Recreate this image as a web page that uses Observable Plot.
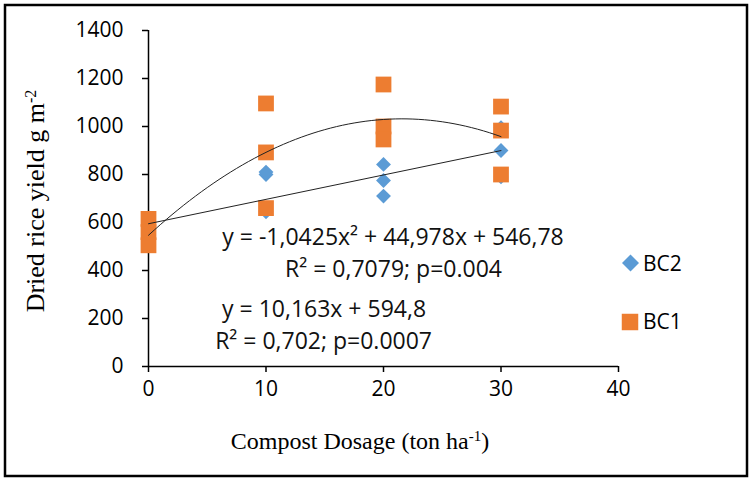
<!DOCTYPE html>
<html><head><meta charset="utf-8">
<script src="https://cdn.jsdelivr.net/npm/d3@7"></script>
<script src="https://cdn.jsdelivr.net/npm/@observablehq/plot@0.6"></script>
<style>html,body{margin:0;padding:0;background:#fff}</style>
</head><body><div id="chart"></div>
<script>
// ---- data ----
const dosage   = [0, 0, 0, 10, 10, 10, 20, 20, 20, 30, 30, 30];
const bc2Yield = [600, 560, 530, 800, 645, 810, 842, 775, 710, 995, 900, 790];
const bc1Yield = [615, 560, 505, 1096, 892, 660, 1175, 1000, 946, 1083, 983, 800];
const seriesNames  = ["BC2", "BC1"];
const seriesColors = ["#5B9BD5", "#ED7D31"];
const quadCoef = [-1.0425, 44.978, 546.78];   // BC1 trend: a x^2 + b x + c
const linCoef  = [10.163, 594.8];             // BC2 trend: m x + k
const xTicks = [0, 10, 20, 30, 40];
const yTicks = [0, 200, 400, 600, 800, 1000, 1200, 1400];
const eqQuad = ["y = -1,0425x\u00B2 + 44,978x + 546,78", "R\u00B2 = 0,7079; p=0.004"];
const eqLin  = ["y = 10,163x + 594,8", "R\u00B2 = 0,702; p=0.0007"];
const xTitle = ["Compost Dosage (ton ha", "-1", ")"];
const yTitle = ["Dried rice yield g m", "-2"];

// ---- derived tables ----
const bc2 = dosage.map((d, i) => ({x: d, y: bc2Yield[i]}));
const bc1 = dosage.map((d, i) => ({x: d, y: bc1Yield[i]}));
const trendX = d3.range(0, 30.01, 0.5);
const quadLine = trendX.map(x => ({x, y: quadCoef[0]*x*x + quadCoef[1]*x + quadCoef[2]}));
const linLine  = [0, 30].map(x => ({x, y: linCoef[0]*x + linCoef[1]}));

const font = "'Open Sans', sans-serif";
const eqSize = 23;
const chart = Plot.plot({
  width: 752, height: 478,
  marginLeft: 148, marginRight: 134, marginTop: 30, marginBottom: 112,
  style: {fontFamily: font, fontSize: "21px", color: "#000", background: "#fff"},
  x: {domain: [0, 40]},
  y: {domain: [0, 1400]},
  marks: [
    Plot.axisX({ticks: xTicks, tickFormat: d => String(d), tickSize: 6, tickPadding: 9, label: null, fontSize: 21, strokeWidth: 1.5}),
    Plot.axisY({ticks: yTicks, tickFormat: d => String(d), tickSize: 6, tickPadding: 19, label: null, fontSize: 21, strokeWidth: 1.5}),
    Plot.ruleX([0], {stroke: "#000", strokeWidth: 1.5}),
    Plot.ruleY([0], {stroke: "#000", strokeWidth: 1.5}),
    Plot.dot(bc2, {x: "x", y: "y", symbol: "diamond2", r: 6.7, fill: seriesColors[0], stroke: "none"}),
    Plot.dot(bc1, {x: "x", y: "y", symbol: "square", r: 8.9, fill: seriesColors[1], stroke: "none"}),
    Plot.line(quadLine, {x: "x", y: "y", stroke: "#222", strokeWidth: 1}),
    Plot.line(linLine, {x: "x", y: "y", stroke: "#222", strokeWidth: 1}),
    Plot.text([eqQuad[0]], {x: 20.81, y: 539, text: d => d, fontSize: eqSize, fill: "#111"}),
    Plot.text([eqQuad[1]], {x: 20.85, y: 403, text: d => d, fontSize: eqSize, fill: "#111"}),
    Plot.text([eqLin[0]], {x: 14.94, y: 236, text: d => d, fontSize: eqSize, fill: "#111"}),
    Plot.text([eqLin[1]], {x: 14.9, y: 104.5, text: d => d, fontSize: eqSize, fill: "#111"})
  ]
});
document.getElementById("chart").appendChild(chart);

const svg = d3.select(chart);
// outer frame
svg.append("rect").attr("x", 5).attr("y", 5).attr("width", 742).attr("height", 471)
  .attr("fill", "none").attr("stroke", "#000").attr("stroke-width", 2.5);

// axis titles
const serif = "'Liberation Serif', 'Times New Roman', serif";
const xt = svg.append("text").attr("x", 360).attr("y", 449).attr("text-anchor", "middle")
  .attr("font-family", serif).attr("font-size", 24).attr("fill", "#000");
xt.append("tspan").text(xTitle[0]);
xt.append("tspan").attr("baseline-shift", "super").attr("font-size", 15).text(xTitle[1]);
xt.append("tspan").text(xTitle[2]);

const yt = svg.append("text").attr("transform", "translate(44,201) rotate(-90)").attr("text-anchor", "middle")
  .attr("font-family", serif).attr("font-size", 26).attr("fill", "#000");
yt.append("tspan").text(yTitle[0]);
yt.append("tspan").attr("baseline-shift", "super").attr("font-size", 16).text(yTitle[1]);

// legend
const leg = [
  {name: seriesNames[0], color: seriesColors[0], sym: d3.symbolDiamond2, size: 184, cx: 630.5, cy: 263, ty: 271},
  {name: seriesNames[1], color: seriesColors[1], sym: d3.symbolSquare, size: 272, cx: 630, cy: 322, ty: 329}
];
leg.forEach(l => {
  svg.append("path").attr("d", d3.symbol(l.sym, l.size)()).attr("transform", `translate(${l.cx},${l.cy})`).attr("fill", l.color);
  svg.append("text").attr("x", 643).attr("y", l.ty).attr("text-anchor", "start")
    .attr("font-family", font).attr("font-size", 21).attr("fill", "#000").text(l.name);
});
</script></body></html>
